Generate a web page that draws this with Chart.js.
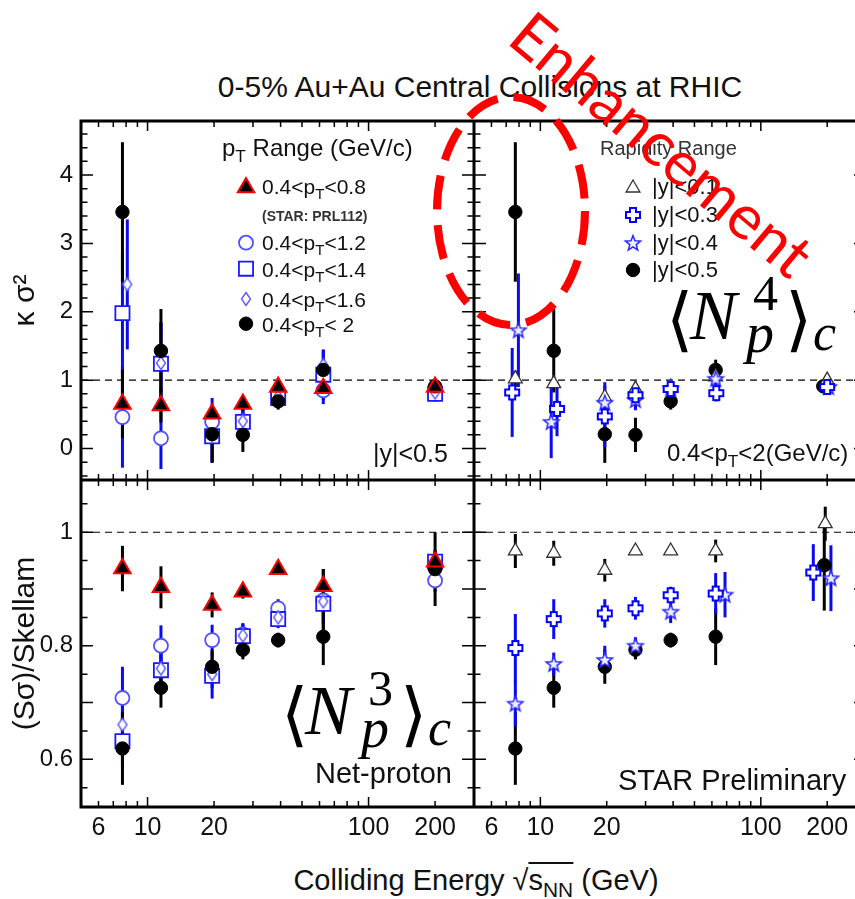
<!DOCTYPE html>
<html>
<head>
<meta charset="utf-8">
<title>Net-proton cumulant ratios</title>
<script src="https://cdn.jsdelivr.net/npm/chart.js@4.4.1/dist/chart.umd.min.js"></script>
<style>
  body { margin: 0; background: #fff; overflow: hidden; }
  #wrap { position: relative; width: 900px; height: 899px; font-family: "Liberation Sans", Arial, sans-serif; color: #111; }
  #wrap canvas { position: absolute; }
  .lbl { position: absolute; white-space: nowrap; line-height: 1; }
  .lbl sub { font-size: 0.72em; vertical-align: -0.32em; line-height: 0; }
  .mth { position: absolute; white-space: nowrap; line-height: 1; font-family: "Liberation Serif", "DejaVu Serif", serif; color: #000; }
</style>
</head>
<body>
<div id="wrap">
  <canvas id="tl" width="474" height="363" style="left:0px;top:117px"></canvas>
  <canvas id="tr" width="392" height="363" style="left:474px;top:117px"></canvas>
  <canvas id="bl" width="474" height="370" style="left:0px;top:480px"></canvas>
  <canvas id="br" width="392" height="370" style="left:474px;top:480px"></canvas>

  <div class="lbl" style="left:480px;top:71.6px;font-size:30px;transform:translateX(-50%)">0-5% Au+Au Central Collisions at RHIC</div>

  <!-- pT legend -->
  <div class="lbl" style="left:222px;top:136.4px;font-size:24px">p<sub>T</sub> Range (GeV/c)</div>
  <div class="lbl" style="left:262px;top:175.5px;font-size:21px">0.4&lt;p<sub>T</sub>&lt;0.8</div>
  <div class="lbl" style="left:262px;top:209.1px;font-size:14px;font-weight:bold;color:#333">(STAR: PRL112)</div>
  <div class="lbl" style="left:262px;top:232.2px;font-size:21px">0.4&lt;p<sub>T</sub>&lt;1.2</div>
  <div class="lbl" style="left:262px;top:258.9px;font-size:21px">0.4&lt;p<sub>T</sub>&lt;1.4</div>
  <div class="lbl" style="left:262px;top:288.9px;font-size:21px">0.4&lt;p<sub>T</sub>&lt;1.6</div>
  <div class="lbl" style="left:262px;top:313.9px;font-size:21px">0.4&lt;p<sub>T</sub>&lt; 2</div>
  <div class="lbl" style="left:373px;top:440.5px;font-size:25px">|y|&lt;0.5</div>

  <!-- rapidity legend -->
  <div class="lbl" style="left:600px;top:138.1px;font-size:20px;color:#333">Rapidity Range</div>
  <div class="lbl" style="left:652px;top:176.4px;font-size:22px">|y|&lt;0.1</div>
  <div class="lbl" style="left:652px;top:204.4px;font-size:22px">|y|&lt;0.3</div>
  <div class="lbl" style="left:652px;top:232.4px;font-size:22px">|y|&lt;0.4</div>
  <div class="lbl" style="left:652px;top:259.4px;font-size:22px">|y|&lt;0.5</div>
  <div class="lbl" style="left:667px;top:441.4px;font-size:24px">0.4&lt;p<sub>T</sub>&lt;2(GeV/c)</div>

  <div class="lbl" style="left:452px;top:758.5px;font-size:29px;transform:translateX(-100%)">Net-proton</div>
  <div class="lbl" style="left:618px;top:765.5px;font-size:29px">STAR Preliminary</div>

  <div class="lbl" style="left:476px;top:865.5px;font-size:29px;transform:translateX(-50%)">Colliding Energy &radic;<span style="border-top:2px solid #111">s<sub>NN</sub></span> (GeV)</div>

  <svg width="900" height="899" style="position:absolute;left:0;top:0">
    <ellipse cx="511" cy="211" rx="74" ry="114" fill="none" stroke="#ff0000" stroke-width="8" stroke-dasharray="34 16"/>
  </svg>
  <div class="lbl" style="left:663px;top:143px;font-family:Lato,sans-serif;font-size:62px;color:#ff0000;transform:translate(-50%,-50%) rotate(40deg)">Enhancement</div>
</div>

<script>
var FONT = '"Liberation Sans", Arial, sans-serif';

// collision energies (GeV)
var energy = [7.7, 11.5, 19.6, 27, 39, 62.4, 200];

// axis ticks
var xTickVals = [5, 6, 7, 8, 9, 10, 20, 30, 40, 50, 60, 70, 80, 90, 100, 200, 300];
var xTickLabels = [6, 10, 20, 100, 200];
var kTickLabels = [0, 1, 2, 3, 4];
var sTickLabels = [0.6, 0.8, 1];

// kappa*sigma^2, pT ranges (|y|<0.5)
var kPt08 = [0.65, 0.63, 0.51, 0.65, 0.90, 0.88, 0.90];
var kPt08Err = [0.5, 0.25, 0.12, 0.1, 0.08, 0.08, 0.05];
var kPt12 = [0.46, 0.15, 0.39, 0.40, 0.78, 0.85, 0.80];
var kPt12Err = [0.74, 0.45, 0.35, 0.2, 0.08, 0.2, 0.05];
var kPt14 = [1.98, 1.24, 0.18, 0.39, 0.74, 1.08, 0.80];
var kPt14Err = [0.88, 0.6, 0.38, 0.25, 0.1, 0.37, 0.05];
var kPt16X = [8.1, 11.5, 19.6, 27, 39, 62.4, 200];
var kPt16 = [2.40, 1.25, 0.20, 0.40, 0.76, 1.22, 0.82];
var kPt16Err = [0.95, 0.6, 0.4, 0.25, 0.1, 0.22, 0.05];
var kPt20 = [3.46, 1.43, 0.21, 0.20, 0.69, 1.15, 0.91];
var kPt20Err = [1.02, 0.61, 0.42, 0.25, 0.12, 0.15, 0.06];

// kappa*sigma^2, rapidity ranges (0.4<pT<2)
var kY01X = [7.7, 11.5, 19.6, 27, 39, 62.4, 200];
var kY01 = [1.02, 0.95, 0.75, 0.87, 0.90, 1.05, 1.00];
var kY01Err = [0.12, 0.1, 0.08, 0.06, 0.04, 0.06, 0.03];
var kY03X = [7.45, 11.9, 19.6, 27, 39, 62.8, 200];
var kY03 = [0.82, 0.58, 0.47, 0.78, 0.87, 0.81, 0.90];
var kY03Err = [0.65, 0.4, 0.45, 0.2, 0.1, 0.12, 0.05];
var kY04X = [7.95, 11.2, 19.6, 27, 39, 62.4, 203];
var kY04 = [1.73, 0.39, 0.67, 0.71, 0.88, 1.02, 0.90];
var kY04Err = [0.83, 0.53, 0.3, 0.15, 0.08, 0.12, 0.05];
var kY05X = [7.7, 11.5, 19.6, 27, 39, 62.4, 192];

// S*sigma/Skellam, pT ranges
var sPt08 = [0.936, 0.903, 0.872, 0.895, 0.935, 0.905, 0.948];
var sPt08Err = [0.04, 0.037, 0.022, 0.012, 0.01, 0.03, 0.02];
var sPt12 = [0.708, 0.800, 0.810, 0.820, 0.866, 0.880, 0.915];
var sPt12Err = [0.055, 0.036, 0.027, 0.02, 0.016, 0.055, 0.02];
var sPt14 = [0.632, 0.757, 0.747, 0.817, 0.847, 0.874, 0.948];
var sPt14Err = [0.045, 0.03, 0.04, 0.02, 0.016, 0.035, 0.02];
var sPt16 = [0.661, 0.760, 0.750, 0.818, 0.850, 0.878, 0.940];
var sPt16Err = [0.05, 0.03, 0.025, 0.02, 0.016, 0.02, 0.02];
var sPt20 = [0.619, 0.726, 0.763, 0.793, 0.810, 0.816, 0.935];
var sPt20Err = [0.064, 0.035, 0.03, 0.017, 0.013, 0.05, 0.065];

// S*sigma/Skellam, rapidity ranges
var sY01X = [7.7, 11.5, 19.6, 27, 39, 62.4, 196];
var sY01 = [0.967, 0.963, 0.933, 0.967, 0.967, 0.967, 1.015];
var sY01Err = [0.03, 0.022, 0.02, 0.005, 0.005, 0.02, 0.03];
var sY03X = [7.7, 11.5, 19.6, 27, 39, 62.4, 173];
var sY03 = [0.796, 0.847, 0.857, 0.866, 0.889, 0.892, 0.929];
var sY03Err = [0.06, 0.035, 0.025, 0.02, 0.015, 0.036, 0.05];
var sY04X = [7.7, 11.5, 19.6, 27, 39, 68.8, 208];
var sY04 = [0.698, 0.768, 0.775, 0.800, 0.860, 0.890, 0.919];
var sY04Err = [0.04, 0.02, 0.025, 0.015, 0.02, 0.04, 0.058];
var sY05X = [7.7, 11.5, 19.6, 27, 39, 62.4, 194];
var sY05 = [0.619, 0.726, 0.763, 0.793, 0.810, 0.816, 0.942];
var sY05Err = [0.064, 0.035, 0.03, 0.017, 0.013, 0.05, 0.08];

var blueErr = '#0a0af0';

// marker images for the shapes chart.js has no outline version of
function plusImg(color) {
  var c = document.createElement('canvas');
  c.width = 18; c.height = 18;
  var g = c.getContext('2d'), a = 3, b = 7, m = 9;
  g.beginPath();
  g.moveTo(m - a, m - b); g.lineTo(m + a, m - b); g.lineTo(m + a, m - a); g.lineTo(m + b, m - a);
  g.lineTo(m + b, m + a); g.lineTo(m + a, m + a); g.lineTo(m + a, m + b); g.lineTo(m - a, m + b);
  g.lineTo(m - a, m + a); g.lineTo(m - b, m + a); g.lineTo(m - b, m - a); g.lineTo(m - a, m - a);
  g.closePath();
  g.fillStyle = '#fff'; g.fill();
  g.lineWidth = 2; g.strokeStyle = color; g.stroke();
  return c;
}

function starImg(color) {
  var c = document.createElement('canvas');
  c.width = 20; c.height = 20;
  var g = c.getContext('2d');
  g.beginPath();
  for (var i = 0; i < 10; i++) {
    var r = i % 2 ? 3.4 : 8;
    var ang = -Math.PI / 2 + i * Math.PI / 5;
    var px = 10 + r * Math.cos(ang), py = 10.5 + r * Math.sin(ang);
    if (i == 0) g.moveTo(px, py); else g.lineTo(px, py);
  }
  g.closePath();
  g.fillStyle = '#eef'; g.fill();
  g.lineWidth = 1.5; g.strokeStyle = color; g.stroke();
  return c;
}

function diamondImg(color) {
  var c = document.createElement('canvas');
  c.width = 12; c.height = 16;
  var g = c.getContext('2d');
  g.beginPath();
  g.moveTo(6, 1.5); g.lineTo(10.5, 8); g.lineTo(6, 14.5); g.lineTo(1.5, 8);
  g.closePath();
  g.fillStyle = '#fff'; g.fill();
  g.lineWidth = 1.4; g.strokeStyle = color; g.stroke();
  return c;
}

var sTriRed = {pointStyle: 'triangle', pointRadius: 9.5, pointBackgroundColor: '#000', pointBorderColor: '#ff0000', pointBorderWidth: 2, errColor: '#000'};
var sCircOpen = {pointStyle: 'circle', pointRadius: 7, pointBackgroundColor: '#fff', pointBorderColor: '#5050ff', pointBorderWidth: 1.8, errColor: blueErr};
var sSquare = {pointStyle: 'rect', pointRadius: 10, pointBackgroundColor: '#fff', pointBorderColor: '#1a1aff', pointBorderWidth: 1.8, errColor: blueErr};
var sDiamond = {pointStyle: diamondImg('#5a5aff'), pointRadius: 6, errColor: blueErr};
var sDot = {pointStyle: 'circle', pointRadius: 6.7, pointBackgroundColor: '#000', pointBorderColor: '#000', pointBorderWidth: 1, errColor: '#000'};
var sTriOpen = {pointStyle: 'triangle', pointRadius: 8, pointBackgroundColor: '#fff', pointBorderColor: '#333', pointBorderWidth: 1.3, errColor: '#000'};
var sPlus = {pointStyle: plusImg('#0000ff'), pointRadius: 7, errColor: blueErr};
var sStar = {pointStyle: starImg('#2a2aff'), pointRadius: 7, errColor: blueErr};

function pts(xs, ys) {
  return ys.map(function (v, i) { return {x: xs[i], y: v}; });
}

function series(label, xs, ys, errs, style) {
  return Object.assign({label: label, data: pts(xs, ys), errs: errs, showLine: false}, style);
}

function panelPlugin(p) {
  return {
    id: 'panel',
    beforeDatasetsDraw: function (chart) {
      var ctx = chart.ctx, a = chart.chartArea, xs = chart.scales.x, ys = chart.scales.y;
      ctx.save();
      ctx.beginPath();
      ctx.rect(a.left, a.top, a.right - a.left, a.bottom - a.top);
      ctx.clip();
      // dashed line at 1
      var y1 = ys.getPixelForValue(1);
      ctx.setLineDash([7, 5]);
      ctx.lineWidth = 1.2;
      ctx.strokeStyle = '#000';
      ctx.beginPath(); ctx.moveTo(a.left, y1); ctx.lineTo(a.right, y1); ctx.stroke();
      ctx.setLineDash([]);
      // error bars, same order as the markers
      var sets = chart.data.datasets;
      ctx.lineWidth = 3;
      for (var i = sets.length - 1; i >= 0; i--) {
        var ds = sets[i];
        ctx.strokeStyle = ds.errColor;
        ds.data.forEach(function (pt, j) {
          var e = ds.errs[j];
          var px = xs.getPixelForValue(pt.x);
          ctx.beginPath();
          ctx.moveTo(px, ys.getPixelForValue(pt.y - e));
          ctx.lineTo(px, ys.getPixelForValue(pt.y + e));
          ctx.stroke();
        });
      }
      ctx.restore();
    },
    afterDatasetsDraw: function (chart) {
      var ctx = chart.ctx, a = chart.chartArea, xs = chart.scales.x, ys = chart.scales.y;
      ctx.save();
      ctx.strokeStyle = '#000';
      ctx.lineWidth = 1.5;
      // inward ticks, x
      xTickVals.forEach(function (v) {
        var px = xs.getPixelForValue(v);
        if (px < a.left + 2 || px > a.right - 2) return;
        var len = (v == 10 || v == 100) ? 10 : 6;
        ctx.beginPath();
        ctx.moveTo(px, a.bottom); ctx.lineTo(px, a.bottom - len);
        ctx.moveTo(px, a.top); ctx.lineTo(px, a.top + len);
        ctx.stroke();
      });
      // inward ticks, y
      for (var k = Math.ceil(ys.min / p.yStep); k * p.yStep <= ys.max; k++) {
        var v = k * p.yStep;
        var py = ys.getPixelForValue(v);
        if (py < a.top + 2 || py > a.bottom - 2) continue;
        var q = v / p.yMajor;
        var len = Math.abs(q - Math.round(q)) < 1e-6 ? 12 : 6.5;
        ctx.beginPath();
        ctx.moveTo(a.left, py); ctx.lineTo(a.left + len, py);
        ctx.moveTo(a.right, py); ctx.lineTo(a.right - len, py);
        ctx.stroke();
      }
      // frame
      ctx.lineWidth = 3;
      ctx.strokeRect(a.left, a.top, a.right - a.left, a.bottom - a.top);
      // legend markers
      (p.legend || []).forEach(function (it) {
        var ds = chart.data.datasets[it.i];
        ctx.fillStyle = ds.pointBackgroundColor || '#fff';
        ctx.strokeStyle = ds.pointBorderColor || '#000';
        ctx.lineWidth = ds.pointBorderWidth || 1;
        Chart.helpers.drawPoint(ctx, {pointStyle: ds.pointStyle, radius: ds.pointRadius, rotation: 0, borderWidth: ds.pointBorderWidth || 1}, it.x, it.y);
      });
      ctx.restore();
    }
  };
}

function makePanel(id, p) {
  return new Chart(document.getElementById(id), {
    type: 'scatter',
    data: {datasets: p.sets},
    options: {
      responsive: false,
      animation: false,
      events: [],
      layout: {autoPadding: false, padding: {top: p.padTop, left: 0, right: 0, bottom: 0}},
      plugins: {legend: {display: false}, tooltip: {enabled: false}},
      scales: {
        x: {
          type: 'logarithmic', min: 5, max: 300, bounds: 'data', display: p.showX,
          grid: {display: false, drawTicks: false}, border: {display: false},
          afterBuildTicks: function (s) { s.ticks = xTickVals.map(function (v) { return {value: v}; }); },
          afterFit: function (s) {
            if (p.showX) s.height = 43;
            s.paddingLeft = 0; s.paddingRight = 0;
          },
          ticks: {
            autoSkip: false, maxRotation: 0, minRotation: 0, padding: 6, color: '#111',
            font: {family: FONT, size: 25},
            callback: function (v) { return xTickLabels.indexOf(v) >= 0 ? String(v) : ''; }
          }
        },
        y: {
          type: 'linear', min: p.yMin, max: p.yMax, bounds: 'data', display: p.showY,
          grid: {display: false, drawTicks: false}, border: {display: false},
          afterBuildTicks: function (s) { s.ticks = p.yLabels.map(function (v) { return {value: v}; }); },
          afterFit: function (s) {
            if (p.showY) s.width = 81;
            s.paddingTop = 0; s.paddingBottom = 0;
          },
          ticks: {padding: 8, color: '#111', font: {family: FONT, size: 24}, callback: function (v) { return String(v); }},
          title: {display: !!p.yTitle, text: p.yTitle || '', color: '#111', font: {family: FONT, size: 30}, padding: {top: 8, bottom: 0}}
        }
      }
    },
    plugins: [panelPlugin(p)]
  });
}

// top left: kappa sigma^2 by pT range
makePanel('tl', {
  showX: false, showY: true, padTop: 4, yMin: -0.46, yMax: 4.79, yStep: 0.2, yMajor: 1,
  yLabels: kTickLabels, yTitle: '\u03BA \u03C3\u00B2',
  sets: [
    series('0.4<pT<0.8', energy, kPt08, kPt08Err, sTriRed),
    series('0.4<pT<2', energy, kPt20, kPt20Err, sDot),
    series('0.4<pT<1.6', kPt16X, kPt16, kPt16Err, sDiamond),
    series('0.4<pT<1.4', energy, kPt14, kPt14Err, sSquare),
    series('0.4<pT<1.2', energy, kPt12, kPt12Err, sCircOpen)
  ],
  legend: [{i: 0, x: 246, y: 70.5}, {i: 4, x: 246, y: 125.7}, {i: 3, x: 246, y: 151.7}, {i: 2, x: 246, y: 182}, {i: 1, x: 246, y: 206.7}]
});

// top right: kappa sigma^2 by rapidity range
makePanel('tr', {
  showX: false, showY: false, padTop: 4, yMin: -0.46, yMax: 4.79, yStep: 0.2, yMajor: 1,
  yLabels: kTickLabels,
  sets: [
    series('|y|<0.3', kY03X, kY03, kY03Err, sPlus),
    series('|y|<0.4', kY04X, kY04, kY04Err, sStar),
    series('|y|<0.1', kY01X, kY01, kY01Err, sTriOpen),
    series('|y|<0.5', kY05X, kPt20, kPt20Err, sDot)
  ],
  legend: [{i: 2, x: 159, y: 71}, {i: 0, x: 159, y: 98}, {i: 1, x: 159, y: 126}, {i: 3, x: 159, y: 153}]
});

// bottom left: S sigma / Skellam by pT range
makePanel('bl', {
  showX: true, showY: true, padTop: 0, yMin: 0.516, yMax: 1.092, yStep: 0.05, yMajor: 0.1,
  yLabels: sTickLabels, yTitle: '(S\u03C3)/Skellam',
  sets: [
    series('0.4<pT<0.8', energy, sPt08, sPt08Err, sTriRed),
    series('0.4<pT<2', energy, sPt20, sPt20Err, sDot),
    series('0.4<pT<1.6', energy, sPt16, sPt16Err, sDiamond),
    series('0.4<pT<1.4', energy, sPt14, sPt14Err, sSquare),
    series('0.4<pT<1.2', energy, sPt12, sPt12Err, sCircOpen)
  ]
});

// bottom right: S sigma / Skellam by rapidity range
makePanel('br', {
  showX: true, showY: false, padTop: 0, yMin: 0.516, yMax: 1.092, yStep: 0.05, yMajor: 0.1,
  yLabels: sTickLabels,
  sets: [
    series('|y|<0.3', sY03X, sY03, sY03Err, sPlus),
    series('|y|<0.4', sY04X, sY04, sY04Err, sStar),
    series('|y|<0.1', sY01X, sY01, sY01Err, sTriOpen),
    series('|y|<0.5', sY05X, sY05, sY05Err, sDot)
  ]
});

// big cumulant labels
function mathLabel(n, ax, ay) {
  var wrap = document.getElementById('wrap');
  var parts = [
    ['\u27E8', -24, 4, 70, false],
    ['N', 0, 0, 70, true],
    [n, 63, -30, 50, false],
    ['p', 56, 12, 56, true],
    ['\u27E9', 95, 4, 70, false],
    ['c', 123, 11, 52, true]
  ];
  parts.forEach(function (q) {
    var d = document.createElement('div');
    d.className = 'mth';
    d.textContent = q[0];
    d.style.fontSize = q[3] + 'px';
    d.style.fontStyle = q[4] ? 'italic' : 'normal';
    d.style.left = (ax + q[1]) + 'px';
    d.style.top = (ay + q[2] - 0.8375 * q[3]) + 'px';
    wrap.appendChild(d);
  });
}
mathLabel('4', 690, 340);
mathLabel('3', 305, 735);
</script>
</body>
</html>
